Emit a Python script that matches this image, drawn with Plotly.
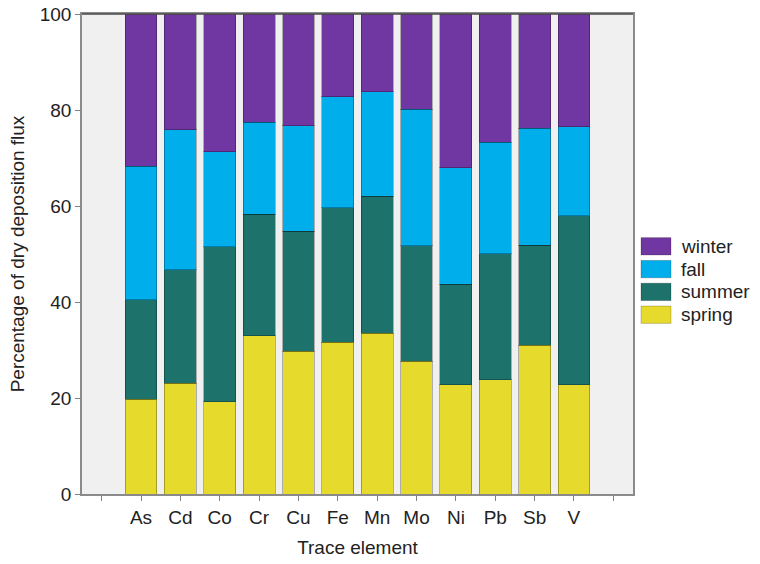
import plotly.graph_objects as go

categories = ["As", "Cd", "Co", "Cr", "Cu", "Fe", "Mn", "Mo", "Ni", "Pb", "Sb", "V"]
spring = [19.7, 23.1, 19.2, 33.0, 29.7, 31.6, 33.5, 27.7, 22.8, 23.8, 31.0, 22.8]
summer = [20.8, 23.6, 32.3, 25.3, 25.0, 28.0, 28.5, 24.0, 20.9, 26.3, 20.8, 35.2]
fall = [27.8, 29.2, 19.8, 19.1, 22.0, 23.2, 21.8, 28.5, 24.3, 23.2, 24.4, 18.5]
winter = [31.7, 24.1, 28.7, 22.6, 23.3, 17.2, 16.2, 19.8, 32.0, 26.7, 23.8, 23.5]

series_names = ["spring", "summer", "fall", "winter"]
series_values = [spring, summer, fall, winter]
series_colors = ["#e6da2c", "#1d736b", "#00aeec", "#7036a1"]
y_ticks = [0, 20, 40, 60, 80, 100]

FONT = "Liberation Sans, Arial, sans-serif"
FS = 19
W, H = 760, 564
ML, MR, MT, MB = 82, 127, 14, 70
PW = W - ML - MR
PH = H - MT - MB

xpos = list(range(len(categories)))
fig = go.Figure()
for name, vals, col in zip(series_names, series_values, series_colors):
    fig.add_trace(go.Bar(
        x=xpos, y=vals, name=name,
        marker=dict(color=col, line=dict(color="rgba(0,0,0,0.28)", width=1)),
        showlegend=False,
    ))

tickvals = [-1] + xpos + [len(categories)]
ticktext = [""] + categories + [""]

fig.update_layout(
    width=W, height=H,
    margin=dict(l=ML, r=MR, t=MT, b=MB, autoexpand=False),
    barmode="stack", bargap=0.19,
    plot_bgcolor="#f0f0f0", paper_bgcolor="white",
    font=dict(family=FONT, size=FS, color="#222222"),
    xaxis=dict(
        range=[-1.5, len(categories) + 0.5], automargin=False,
        tickmode="array", tickvals=tickvals, ticktext=ticktext,
        ticks="outside", ticklen=5, tickcolor="#808080", tickwidth=1,
        showline=True, linecolor="#8a8a8a", linewidth=1.5, mirror=True,
        showgrid=False, zeroline=False,
        tickfont=dict(size=FS, color="#222222"),
        title=dict(text="Trace element", font=dict(size=FS, color="#222222"), standoff=14),
    ),
    yaxis=dict(
        range=[0, 100], automargin=False,
        tickmode="array", tickvals=y_ticks,
        ticks="outside", ticklen=5, tickcolor="#808080", tickwidth=1,
        showline=True, linecolor="#8a8a8a", linewidth=1.5, mirror=True,
        showgrid=False, zeroline=False,
        tickfont=dict(size=FS, color="#222222"),
        title=dict(text="Percentage of dry deposition flux", font=dict(size=FS, color="#222222"), standoff=10),
    ),
)

# top frame line (darker)
fig.add_shape(type="line", xref="paper", yref="paper", x0=0, x1=1, y0=1, y1=1,
              line=dict(color="#4d4d4d", width=1.5))

# manual legend (winter at top)
def px_x(p):
    return (p - ML) / PW

def px_y(p):
    return 1 - (p - MT) / PH

legend_top = 246.3
step = 22.8
for i, (name, col) in enumerate(reversed(list(zip(series_names, series_colors)))):
    cy = legend_top + i * step
    fig.add_shape(type="rect", xref="paper", yref="paper",
                  x0=px_x(641), x1=px_x(671), y0=px_y(cy - 8.7), y1=px_y(cy + 8.7),
                  fillcolor=col, line=dict(color="rgba(0,0,0,0.2)", width=1))
    fig.add_annotation(xref="paper", yref="paper", x=px_x(679), y=px_y(cy),
                       text=name, showarrow=False, xanchor="left", yanchor="middle",
                       font=dict(family=FONT, size=FS, color="#222222"))

fig.write_html("out.html")
